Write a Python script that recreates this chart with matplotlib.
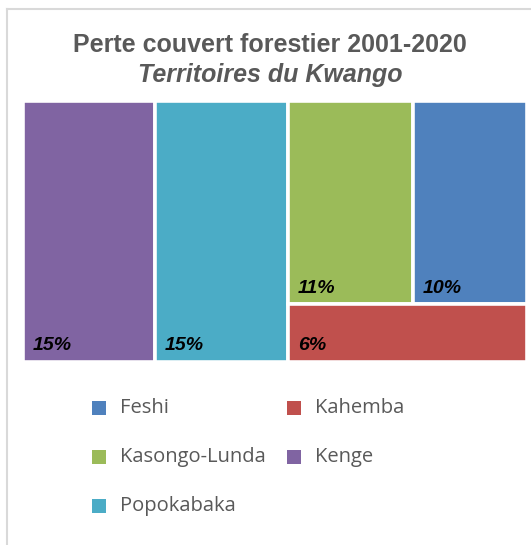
import matplotlib
matplotlib.use("Agg")
import matplotlib.pyplot as plt
from matplotlib.patches import Rectangle
from matplotlib.lines import Line2D

W, H = 531, 545

# data
territoires = ["Kenge", "Popokabaka", "Kasongo-Lunda", "Feshi", "Kahemba"]
pertes = [15, 15, 11, 10, 6]
couleurs = ["#8064A2", "#4BACC6", "#9BBB59", "#4F81BD", "#C0504D"]
legend_order = ["Feshi", "Kahemba", "Kasongo-Lunda", "Kenge", "Popokabaka"]

TITLE_COLOR = "#595959"


def worst(row, side):
    s = sum(row)
    return max(max(side * side * r / (s * s), s * s / (side * side * r)) for r in row)


def squarify(values, x, y, w, h):
    """Squarified treemap layout (y going downward)"""
    total = sum(values)
    areas = [v * w * h / total for v in values]
    rects = []
    i = 0
    while i < len(areas):
        side = min(w, h)
        row = [areas[i]]
        j = i + 1
        while j < len(areas) and worst(row + [areas[j]], side) <= worst(row, side):
            row.append(areas[j])
            j += 1
        s = sum(row)
        if w >= h:
            cw = s / h
            yy = y
            for a in row:
                rects.append((x, yy, cw, a / cw))
                yy += a / cw
            x += cw
            w -= cw
        else:
            rh = s / w
            xx = x
            for a in row:
                rects.append((xx, y, a / rh, rh))
                xx += a / rh
            y += rh
            h -= rh
        i = j
    return rects


fig = plt.figure(figsize=(W / 100, H / 100), dpi=100)

# chart border (left and top)
fig.add_artist(Line2D([7 / W, 7 / W], [0, 1 - 9 / H], color="#d9d9d9", lw=1.5))
fig.add_artist(Line2D([7 / W, 1], [1 - 9 / H, 1 - 9 / H], color="#d9d9d9", lw=1.5))

fig.text(270 / W, 1 - 45 / H, "Perte couvert forestier 2001-2020", ha="center", va="center",
         fontsize=18, fontweight="bold", color=TITLE_COLOR, family="Liberation Sans")
fig.text(270 / W, 1 - 75 / H, "Territoires du Kwango", ha="center", va="center",
         fontsize=18, fontweight="bold", style="italic", color=TITLE_COLOR, family="Liberation Sans")

# treemap area, 1 data unit = 1 pixel
left, right, top, bottom = 22.5, 526.5, 100.5, 361.5
aw, ah = right - left, bottom - top
ax = fig.add_axes([left / W, 1 - bottom / H, aw / W, ah / H])
ax.set_xlim(0, aw)
ax.set_ylim(ah, 0)
ax.axis("off")

rects = squarify(pertes, 0, 0, aw, ah)
for (rx, ry, rw, rh), v, c in zip(rects, pertes, couleurs):
    ax.add_patch(Rectangle((rx, ry), rw, rh, facecolor=c, edgecolor="white", lw=2.6))
    ax.text(rx + 10, ry + rh - 11, f"{v}%", ha="left", va="baseline", fontsize=14,
            fontweight="bold", style="italic", color="black", family="Liberation Sans")

# legend (2 columns, row-major)
for k, name in enumerate(legend_order):
    row, col = divmod(k, 2)
    cy = 408 + row * 49
    mx = 92 + col * 195
    c = couleurs[territoires.index(name)]
    fig.add_artist(Rectangle((mx / W, 1 - (cy + 7) / H), 14 / W, 14 / H, facecolor=c,
                             edgecolor="none", transform=fig.transFigure))
    fig.text((mx + 28) / W, 1 - cy / H, name, ha="left", va="center", fontsize=14.5,
             color=TITLE_COLOR, family="Open Sans")

fig.savefig("out.png", dpi=100)
